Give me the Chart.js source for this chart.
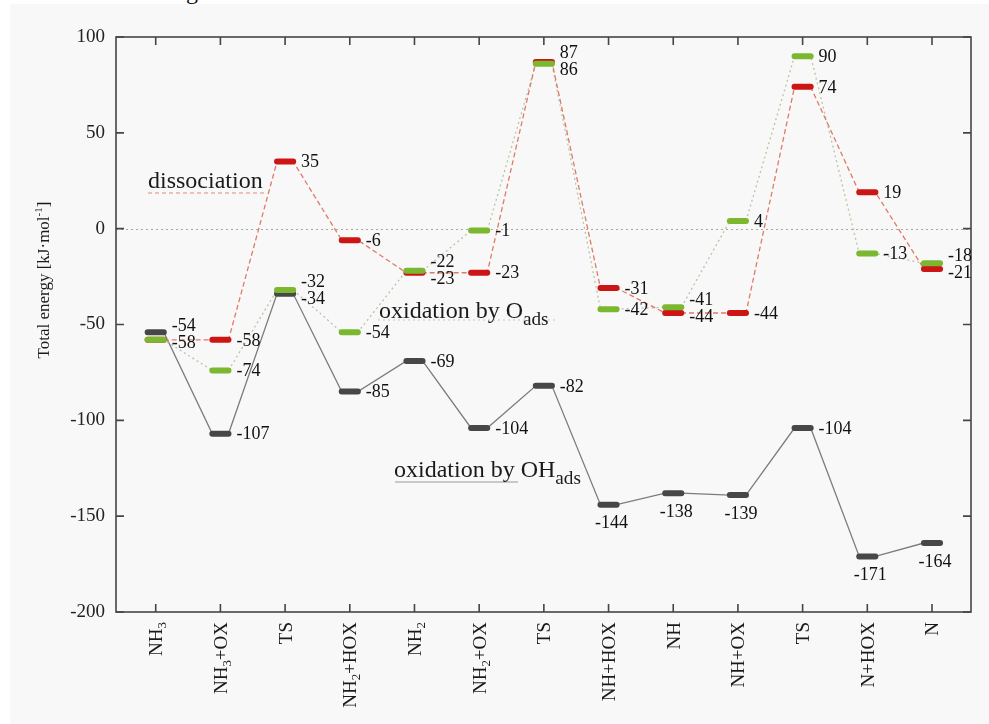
<!DOCTYPE html>
<html><head><meta charset="utf-8">
<script src="https://cdn.jsdelivr.net/npm/chart.js@4/dist/chart.umd.min.js"></script>
<style>
html,body{margin:0;padding:0;background:#fff;width:989px;height:724px;overflow:hidden}
#bg{position:absolute;left:10px;top:4px;right:0;bottom:0;background:#f8f8f8}
#frag{position:absolute;left:186px;top:-21px;font:24px/24px 'Liberation Serif',serif;color:#111}
#wrap{position:absolute;left:0;top:0;width:989px;height:724px}
</style></head><body>
<div id="bg"></div><div id="frag">g</div>
<div id="wrap"><canvas id="c" width="989" height="724"></canvas></div>
<script>
// ---- data ----
const categories = ['NH3','NH3+OX','TS','NH2+HOX','NH2','NH2+OX','TS','NH+HOX','NH','NH+OX','TS','N+HOX','N'];
const dissociation = [-58,-58,35,-6,-23,-23,87,-31,-44,-44,74,19,-21];
const oxidationO   = [-58,-74,-32,-54,-22,-1,86,-42,-41,4,90,-13,-18];
const oxidationOH  = [-54,-107,-34,-85,-69,-104,-82,-144,-138,-139,-104,-171,-164];
const yTicks = [100,50,0,-50,-100,-150,-200];
const yTitle = 'Total energy [kJ·mol';
const legendNames = ['dissociation','oxidation by O','oxidation by OH'];

const SERIF = "'Liberation Serif','Times New Roman',serif";
const HALF = 0.125;

function levelPoints(vals){const o=[];vals.forEach((v,i)=>{o.push({x:i-HALF,y:v},{x:i+HALF,y:v},{x:i+0.5,y:null});});return o;}
function pathPoints(vals){const o=[];vals.forEach((v,i)=>{o.push({x:i-HALF,y:v},{x:i+HALF,y:v});});return o;}

const RED={bar:'#cc1616',line:'#df7a68',dash:[5,3]};
const GREEN={bar:'#7cb82f',line:'#b6c6a0',dash:[2,3]};
const BLACK={bar:'#474747',line:'#7c7c7c',dash:[]};

function connector(vals,st){return {data:pathPoints(vals),borderColor:st.line,borderWidth:1.3,borderDash:st.dash,pointRadius:0,order:10,fill:false,tension:0};}
function levels(vals,st,ord){return {data:levelPoints(vals),borderColor:st.bar,borderWidth:6,borderCapStyle:'round',pointRadius:0,order:ord,fill:false,spanGaps:false,tension:0};}

function partsOf(str,size){
  const out=[];
  for(const ch of str){
    if(/[0-9]/.test(ch)) out.push({t:ch,size:size*0.68,dy:size*0.22});
    else out.push({t:ch,size:size,dy:0});
  }
  return out;
}
function widthOf(ctx,parts){let w=0;parts.forEach(p=>{ctx.font=p.size+'px '+SERIF;w+=ctx.measureText(p.t).width;});return w;}
function drawParts(ctx,parts,x,y){let cx=x;parts.forEach(p=>{ctx.font=p.size+'px '+SERIF;ctx.fillText(p.t,cx,y+p.dy);cx+=ctx.measureText(p.t).width;});}

const framePlugin={
  id:'frame',
  beforeDatasetsDraw(chart){
    const {ctx,chartArea:a,scales:{y}}=chart;
    ctx.save();
    ctx.strokeStyle='#a8a8a8';ctx.lineWidth=1;ctx.setLineDash([2,3]);
    const y0=Math.round(y.getPixelForValue(0))+0.5;
    ctx.beginPath();ctx.moveTo(a.left,y0);ctx.lineTo(a.right,y0);ctx.stroke();
    ctx.restore();
  },
  afterDatasetsDraw(chart){
    const {ctx,chartArea:a,scales:{x,y}}=chart;
    ctx.save();
    ctx.strokeStyle='#454545';ctx.lineWidth=1.6;ctx.setLineDash([]);
    ctx.strokeRect(a.left,a.top,a.right-a.left,a.bottom-a.top);
    const L=8;
    ctx.beginPath();
    yTicks.forEach(v=>{const py=y.getPixelForValue(v);
      ctx.moveTo(a.left,py);ctx.lineTo(a.left+L,py);
      ctx.moveTo(a.right,py);ctx.lineTo(a.right-L,py);});
    categories.forEach((c,i)=>{const px=x.getPixelForValue(i);
      ctx.moveTo(px,a.bottom);ctx.lineTo(px,a.bottom-L);
      ctx.moveTo(px,a.top);ctx.lineTo(px,a.top+L);});
    ctx.stroke();
    ctx.restore();
  }
};

const labelPlugin={
  id:'energyLabels',
  afterDatasetsDraw(chart,args,opts){
    const {ctx,scales:{x,y}}=chart;
    const series=[oxidationO,dissociation,oxidationOH];
    ctx.save();
    ctx.font=opts.size+'px '+SERIF;ctx.fillStyle='#111';ctx.textBaseline='middle';
    categories.forEach((c,i)=>{
      const seen=new Set();const right=[];
      const px=x.getPixelForValue(i);
      series.forEach((arr,si)=>{
        const v=arr[i];if(v==null||seen.has(v))return;seen.add(v);
        const py=y.getPixelForValue(v);
        const below=(opts.below[si]||[]).includes(i);
        if(below){ctx.textAlign='center';ctx.fillText(String(v),px+3,py+opts.belowGap);}
        else right.push({v,py,ly:py});
      });
      right.sort((a,b)=>a.py-b.py);
      for(let k=0;k<right.length-1;k++){
        const A=right[k],B=right[k+1];
        if(B.ly-A.ly<opts.sep){const m=(A.ly+B.ly)/2+opts.shift;A.ly=m-opts.sep/2;B.ly=m+opts.sep/2;}
      }
      ctx.textAlign='left';
      right.forEach(r=>ctx.fillText(String(r.v),px+opts.dx,r.ly+1));
    });
    ctx.restore();
  }
};

const textPlugin={
  id:'texts',
  afterDraw(chart,args,opts){
    const {ctx,chartArea:a,scales:{x}}=chart;
    ctx.save();ctx.fillStyle='#1a1a1a';ctx.textAlign='left';ctx.textBaseline='alphabetic';
    categories.forEach((c,i)=>{
      const px=x.getPixelForValue(i);
      const parts=partsOf(c,opts.xSize);
      const w=widthOf(ctx,parts);
      ctx.save();ctx.translate(px,a.bottom+10);ctx.rotate(-Math.PI/2);
      drawParts(ctx,parts,-w,6.5);
      ctx.restore();
    });
    const tp=[{t:yTitle,size:opts.titleSize,dy:0},{t:'-1',size:opts.titleSize*0.65,dy:-opts.titleSize*0.4},{t:']',size:opts.titleSize,dy:0}];
    const tw=widthOf(ctx,tp);
    ctx.save();ctx.translate(43,280);ctx.rotate(-Math.PI/2);
    drawParts(ctx,tp,-tw/2,5.5);
    ctx.restore();
    opts.legend.forEach((e,k)=>{
      ctx.save();ctx.strokeStyle=e.color;ctx.lineWidth=1.2;ctx.setLineDash(e.dash);
      ctx.beginPath();ctx.moveTo(e.x1,e.ly);ctx.lineTo(e.x2,e.ly);ctx.stroke();ctx.restore();
      const parts=[{t:legendNames[k],size:opts.legSize,dy:0}];
      if(e.sub)parts.push({t:e.sub,size:opts.legSize*0.8,dy:7});
      ctx.fillStyle='#1a1a1a';
      drawParts(ctx,parts,e.x,e.y);
    });
    ctx.restore();
  }
};

new Chart(document.getElementById('c'),{
  type:'line',
  data:{datasets:[
    connector(dissociation,RED),connector(oxidationO,GREEN),connector(oxidationOH,BLACK),
    levels(oxidationOH,BLACK,3),levels(dissociation,RED,2),levels(oxidationO,GREEN,1)
  ]},
  options:{
    responsive:false,animation:false,
    layout:{padding:{left:0,top:37,right:18,bottom:112}},
    plugins:{legend:{display:false},tooltip:{enabled:false},
      energyLabels:{size:18,dx:16,sep:17,shift:-2,belowGap:19,below:{2:[7,8,9,11,12]}},
      texts:{xSize:19,titleSize:17,legSize:24,legend:[
        {x:148,y:188,x1:148,x2:265,ly:193,color:'#e08a7a',dash:[4,3]},
        {x:379,y:318,x1:378,x2:556,ly:320,color:'#c2cab4',dash:[2,3],sub:'ads'},
        {x:394,y:477,x1:395,x2:518,ly:482,color:'#9a9a9a',dash:[],sub:'ads'}
      ]}
    },
    scales:{
      x:{type:'linear',display:false,min:-0.614,max:12.603},
      y:{type:'linear',min:-200,max:100,
        afterFit:s=>{s.width=116;},
        afterBuildTicks:s=>{s.ticks=yTicks.map(v=>({value:v}));},
        grid:{display:false,drawTicks:false},border:{display:false},
        ticks:{font:{family:SERIF,size:19},color:'#222',padding:11}}
    }
  },
  plugins:[framePlugin,labelPlugin,textPlugin]
});
</script>
</body></html>
